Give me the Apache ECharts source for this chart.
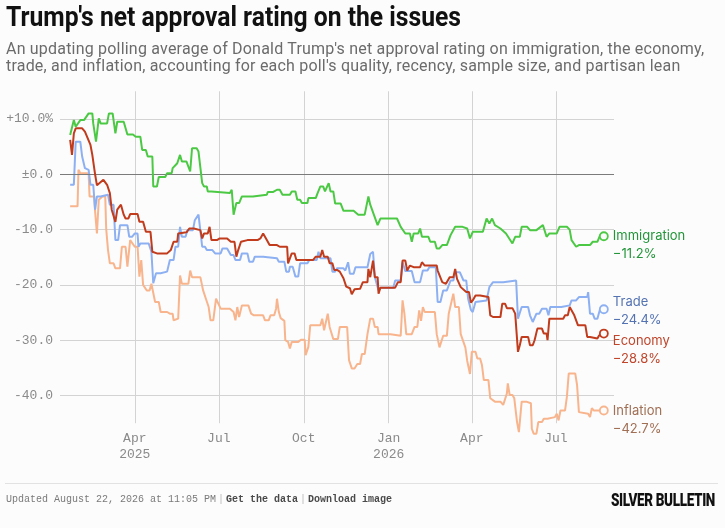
<!DOCTYPE html>
<html lang="en">
<head>
<meta charset="utf-8">
<title>Trump's net approval rating on the issues</title>
<script src="https://cdn.jsdelivr.net/npm/echarts@6.0.0/dist/echarts.min.js"></script>
<style>
  html, body { margin: 0; padding: 0; background: #fcfcfc; }
  #wrap { position: relative; width: 725px; height: 528px; overflow: hidden; }
  #chart { position: absolute; left: 0; top: 0; width: 725px; height: 528px; }
  .title { position: absolute; left: 6px; top: 0px; font-family: Roboto, sans-serif; font-weight: bold;
           font-size: 27px; line-height: 34px; color: #111; white-space: nowrap; transform-origin: 0 0; }
  .sub { position: absolute; left: 6px; top: 41px; font-family: Roboto, sans-serif; font-size: 16px;
         letter-spacing: 0.2px; line-height: 16.5px; color: #6b6b6b; white-space: nowrap; }
  .rule { position: absolute; left: 5px; right: 7px; top: 483px; border-top: 1px solid #e2e2e2; }
  .foot { position: absolute; left: 6px; top: 493px; font-family: "Liberation Mono", monospace; font-size: 10px;
          line-height: 14px; color: #7a7a7a; white-space: nowrap; }
  .foot b { color: #4a4a4a; }
  .foot .sep { color: #bbb; margin: 0 2px; }
  .logo { position: absolute; left: 611px; top: 489px; font-family: Roboto, sans-serif; font-weight: 900;
          font-size: 19px; line-height: 22px; color: #111; white-space: nowrap; transform-origin: 0 0; letter-spacing: -0.5px; }
</style>
</head>
<body>
<div id="wrap">
  <div id="chart"></div>
  <div class="title" id="title">Trump's net approval rating on the issues</div>
  <div class="sub">An updating polling average of Donald Trump's net approval rating on immigration, the economy,<br>trade, and inflation, accounting for each poll's quality, recency, sample size, and partisan lean</div>
  <div class="rule"></div>
  <div class="foot">Updated August 22, 2026 at 11:05 PM<span class="sep">|</span><b>Get the data</b><span class="sep">|</span><b>Download image</b></div>
  <div class="logo" id="logo">SILVER BULLETIN</div>
</div>

<script>
// squeeze the condensed title and logo to the reference widths
function fit(id, w) {
  var el = document.getElementById(id);
  var r = el.getBoundingClientRect().width;
  el.style.transform = 'scaleX(' + (w / r) + ')';
}
fit('title', 455);
fit('logo', 104);

// axis ticks
var xTicks = ['2025-04-01', '2025-07-01', '2025-10-01', '2026-01-01', '2026-04-01', '2026-07-01'];
var xTickLabels = ['Apr\n2025', 'Jul', 'Oct', 'Jan\n2026', 'Apr', 'Jul'];
var yTicks = [-40, -30, -20, -10, 0, 10];
var yTickLabels = ['-40.0', '-30.0', '-20.0', '-10.0', '±0.0', '+10.0%'];

var seriesNames = ['Inflation', 'Trade', 'Economy', 'Immigration'];

// net approval, [date, value]
var immigration = [
  ['2025-01-21', 7.1], ['2025-01-25', 9.8], ['2025-01-27', 8.6], ['2025-02-01', 9.8], ['2025-02-05', 9.8],
  ['2025-02-10', 11.0], ['2025-02-14', 11.0], ['2025-02-15', 9.2], ['2025-02-18', 5.9], ['2025-02-21', 10.1],
  ['2025-02-23', 9.2], ['2025-03-02', 9.2], ['2025-03-04', 11.0], ['2025-03-08', 11.0], ['2025-03-11', 7.4],
  ['2025-03-13', 9.5], ['2025-03-20', 9.5], ['2025-03-22', 9.2], ['2025-03-24', 7.2], ['2025-03-30', 7.2],
  ['2025-04-02', 6.8], ['2025-04-07', 6.8], ['2025-04-09', 4.4], ['2025-04-13', 4.4], ['2025-04-15', 3.2],
  ['2025-04-20', 3.2], ['2025-04-21', -2.2], ['2025-04-25', -2.2], ['2025-04-27', -0.5], ['2025-05-04', -0.5],
  ['2025-05-06', 0.2], ['2025-05-11', 0.2], ['2025-05-12', 1.1], ['2025-05-17', 2.0], ['2025-05-20', 3.5],
  ['2025-05-22', 2.3], ['2025-05-27', 2.3], ['2025-05-29', 2.6], ['2025-05-31', 0.5], ['2025-06-02', 4.7],
  ['2025-06-07', 4.7], ['2025-06-09', 4.1], ['2025-06-11', 4.1], ['2025-06-13', -1.6], ['2025-06-15', -2.2],
  ['2025-06-18', -2.2], ['2025-06-19', -3.1], ['2025-06-23', -3.1], ['2025-06-24', -3.4], ['2025-07-13', -3.4],
  ['2025-07-15', -2.8], ['2025-07-17', -7.3], ['2025-07-20', -5.2], ['2025-07-23', -5.2], ['2025-07-26', -4.0],
  ['2025-08-07', -4.0], ['2025-08-09', -3.7], ['2025-08-22', -3.7], ['2025-08-23', -3.2], ['2025-08-29', -3.2],
  ['2025-09-02', -2.8], ['2025-09-05', -2.8], ['2025-09-08', -3.7], ['2025-09-16', -3.7], ['2025-09-18', -3.1],
  ['2025-09-22', -3.1], ['2025-09-24', -4.6], ['2025-09-27', -4.6], ['2025-09-29', -5.2], ['2025-10-05', -5.2],
  ['2025-10-06', -4.3], ['2025-10-14', -4.3], ['2025-10-16', -3.4], ['2025-10-19', -2.2], ['2025-10-22', -2.2],
  ['2025-10-24', -3.1], ['2025-10-28', -1.6], ['2025-10-30', -3.1], ['2025-11-02', -3.1], ['2025-11-04', -5.3],
  ['2025-11-10', -5.3], ['2025-11-13', -6.6], ['2025-11-24', -6.6], ['2025-11-29', -7.3], ['2025-12-06', -7.3],
  ['2025-12-10', -4.0], ['2025-12-12', -5.5], ['2025-12-20', -9.2], ['2025-12-23', -8.0], ['2026-01-10', -8.0],
  ['2026-01-14', -9.5], ['2026-01-19', -10.7], ['2026-01-24', -10.7], ['2026-01-26', -12.2], ['2026-01-28', -10.7],
  ['2026-02-02', -10.7], ['2026-02-04', -9.8], ['2026-02-06', -11.3], ['2026-02-13', -11.3], ['2026-02-15', -12.2],
  ['2026-02-20', -12.2], ['2026-02-22', -13.4], ['2026-02-25', -13.4], ['2026-02-28', -12.8], ['2026-03-05', -12.8],
  ['2026-03-09', -11.0], ['2026-03-14', -9.5], ['2026-03-22', -9.5], ['2026-03-27', -9.8], ['2026-03-30', -11.6],
  ['2026-04-02', -10.4], ['2026-04-13', -10.4], ['2026-04-17', -8.0], ['2026-04-20', -8.9], ['2026-04-23', -8.0],
  ['2026-04-26', -9.2], ['2026-05-02', -9.8], ['2026-05-08', -10.7], ['2026-05-15', -12.5], ['2026-05-18', -11.3],
  ['2026-05-23', -11.3], ['2026-05-25', -9.5], ['2026-05-31', -9.5], ['2026-06-03', -10.1], ['2026-06-10', -10.1],
  ['2026-06-17', -9.2], ['2026-06-21', -11.3], ['2026-06-24', -10.7], ['2026-07-02', -10.7], ['2026-07-05', -9.5],
  ['2026-07-13', -9.5], ['2026-07-16', -10.0], ['2026-07-18', -11.9], ['2026-07-23', -13.1], ['2026-07-26', -12.8],
  ['2026-08-07', -12.8], ['2026-08-10', -12.2], ['2026-08-15', -12.2], ['2026-08-18', -11.0], ['2026-08-22', -11.2]
];

var economy = [
  ['2025-01-21', 6.2], ['2025-01-23', 3.5], ['2025-01-25', 7.4], ['2025-01-27', 8.3], ['2025-02-03', 8.3],
  ['2025-02-06', 7.7], ['2025-02-12', 5.3], ['2025-02-14', 3.5], ['2025-02-17', 0.0], ['2025-02-19', -2.0],
  ['2025-02-21', -2.2], ['2025-02-26', -1.0], ['2025-02-28', -1.0], ['2025-03-02', -1.9], ['2025-03-04', -1.9],
  ['2025-03-05', -3.4], ['2025-03-07', -6.4], ['2025-03-11', -8.6], ['2025-03-13', -6.4], ['2025-03-17', -5.5],
  ['2025-03-20', -7.3], ['2025-03-22', -8.0], ['2025-03-25', -8.0], ['2025-03-27', -7.2], ['2025-04-04', -7.2],
  ['2025-04-06', -8.6], ['2025-04-10', -8.6], ['2025-04-13', -10.4], ['2025-04-18', -10.4], ['2025-04-20', -14.0],
  ['2025-04-25', -14.3], ['2025-05-06', -14.3], ['2025-05-10', -13.7], ['2025-05-13', -12.2], ['2025-05-17', -12.2],
  ['2025-05-18', -10.7], ['2025-05-27', -10.5], ['2025-05-30', -9.8], ['2025-06-04', -9.8], ['2025-06-06', -10.1],
  ['2025-06-11', -10.1], ['2025-06-13', -11.6], ['2025-06-15', -10.7], ['2025-06-19', -10.7], ['2025-06-21', -9.5],
  ['2025-06-23', -11.9], ['2025-06-29', -11.9], ['2025-07-02', -11.6], ['2025-07-10', -11.6], ['2025-07-14', -12.2],
  ['2025-07-18', -12.2], ['2025-07-20', -14.9], ['2025-07-22', -13.7], ['2025-07-25', -12.2], ['2025-08-01', -11.9],
  ['2025-08-12', -11.9], ['2025-08-15', -11.6], ['2025-08-18', -10.7], ['2025-08-22', -11.9], ['2025-08-25', -12.8],
  ['2025-09-02', -12.8], ['2025-09-05', -13.1], ['2025-09-13', -13.1], ['2025-09-14', -16.1], ['2025-09-18', -14.3],
  ['2025-09-21', -14.3], ['2025-09-23', -15.5], ['2025-10-11', -15.5], ['2025-10-14', -14.9], ['2025-10-19', -14.9],
  ['2025-10-21', -13.7], ['2025-10-23', -14.9], ['2025-10-27', -14.9], ['2025-10-29', -16.1], ['2025-11-01', -16.1],
  ['2025-11-03', -17.3], ['2025-11-06', -17.3], ['2025-11-09', -17.6], ['2025-11-13', -18.8], ['2025-11-16', -20.3],
  ['2025-11-20', -20.6], ['2025-11-22', -21.7], ['2025-11-25', -20.8], ['2025-12-01', -20.7], ['2025-12-04', -19.5],
  ['2025-12-09', -19.5], ['2025-12-10', -17.1], ['2025-12-12', -18.6], ['2025-12-14', -18.6], ['2025-12-15', -15.6],
  ['2025-12-17', -18.6], ['2025-12-20', -18.6], ['2025-12-21', -21.6], ['2025-12-23', -20.5], ['2026-01-08', -20.5],
  ['2026-01-11', -19.5], ['2026-01-14', -19.5], ['2026-01-16', -15.6], ['2026-01-19', -15.6], ['2026-01-21', -17.4],
  ['2026-01-24', -16.5], ['2026-01-28', -16.8], ['2026-02-04', -16.8], ['2026-02-06', -15.9], ['2026-02-09', -16.5],
  ['2026-02-22', -16.5], ['2026-02-23', -17.4], ['2026-02-28', -19.5], ['2026-03-04', -19.8], ['2026-03-08', -18.6],
  ['2026-03-12', -18.6], ['2026-03-14', -17.1], ['2026-03-16', -18.9], ['2026-03-20', -20.4], ['2026-03-26', -21.3],
  ['2026-03-29', -21.3], ['2026-03-31', -23.2], ['2026-04-02', -22.8], ['2026-04-05', -21.9], ['2026-04-10', -21.9],
  ['2026-04-12', -22.2], ['2026-04-19', -22.2], ['2026-04-21', -25.5], ['2026-04-24', -25.8], ['2026-05-02', -25.8],
  ['2026-05-04', -23.4], ['2026-05-07', -23.4], ['2026-05-09', -24.2], ['2026-05-15', -24.2], ['2026-05-18', -25.2],
  ['2026-05-20', -25.2], ['2026-05-21', -32.1], ['2026-05-23', -30.9], ['2026-05-25', -29.4], ['2026-06-01', -29.4],
  ['2026-06-03', -30.9], ['2026-06-06', -30.9], ['2026-06-08', -30.0], ['2026-06-11', -27.9], ['2026-06-16', -27.9],
  ['2026-06-18', -28.8], ['2026-06-21', -28.8], ['2026-06-22', -30.0], ['2026-06-24', -26.1], ['2026-07-09', -26.1],
  ['2026-07-11', -25.5], ['2026-07-14', -25.5], ['2026-07-16', -24.0], ['2026-07-18', -24.0], ['2026-07-21', -25.5],
  ['2026-07-25', -27.3], ['2026-08-02', -27.3], ['2026-08-04', -29.4], ['2026-08-07', -29.4], ['2026-08-09', -29.7],
  ['2026-08-15', -29.7], ['2026-08-17', -29.1], ['2026-08-20', -29.1], ['2026-08-22', -28.8]
];

var trade = [
  ['2025-01-21', -1.9], ['2025-01-25', -1.9], ['2025-01-27', 5.9], ['2025-02-01', 5.9], ['2025-02-03', 3.2],
  ['2025-02-06', 1.1], ['2025-02-10', 0.8], ['2025-02-12', -1.9], ['2025-02-15', -1.9], ['2025-02-17', -6.4],
  ['2025-02-19', -4.0], ['2025-02-23', -4.0], ['2025-02-25', -3.7], ['2025-03-03', -3.7], ['2025-03-05', -5.5],
  ['2025-03-09', -5.5], ['2025-03-11', -11.9], ['2025-03-14', -11.9], ['2025-03-16', -9.2], ['2025-03-24', -9.2],
  ['2025-03-26', -11.3], ['2025-03-29', -11.3], ['2025-04-01', -10.7], ['2025-04-04', -10.7], ['2025-04-05', -13.1],
  ['2025-04-07', -12.5], ['2025-04-16', -12.5], ['2025-04-19', -14.0], ['2025-04-21', -19.7], ['2025-04-24', -17.9],
  ['2025-04-29', -17.9], ['2025-05-01', -17.6], ['2025-05-06', -17.6], ['2025-05-09', -15.5], ['2025-05-13', -15.5],
  ['2025-05-15', -13.1], ['2025-05-18', -13.1], ['2025-05-20', -9.5], ['2025-05-22', -11.3], ['2025-05-26', -11.3],
  ['2025-05-28', -10.1], ['2025-06-03', -10.1], ['2025-06-05', -8.3], ['2025-06-07', -8.3], ['2025-06-09', -7.3],
  ['2025-06-11', -7.3], ['2025-06-13', -13.1], ['2025-06-16', -13.1], ['2025-06-18', -13.7], ['2025-06-24', -13.7],
  ['2025-06-27', -14.3], ['2025-07-03', -14.3], ['2025-07-05', -13.4], ['2025-07-10', -13.4], ['2025-07-14', -14.6],
  ['2025-07-17', -14.6], ['2025-07-19', -15.5], ['2025-07-24', -15.5], ['2025-07-26', -14.3], ['2025-08-01', -14.3],
  ['2025-08-03', -15.8], ['2025-08-07', -15.8], ['2025-08-09', -14.9], ['2025-08-18', -14.9], ['2025-08-20', -15.2],
  ['2025-09-02', -15.2], ['2025-09-04', -15.8], ['2025-09-10', -15.8], ['2025-09-12', -17.6], ['2025-09-15', -17.6],
  ['2025-09-16', -16.7], ['2025-09-19', -16.7], ['2025-09-22', -18.5], ['2025-09-25', -18.5], ['2025-09-27', -16.1],
  ['2025-10-05', -16.1], ['2025-10-07', -15.5], ['2025-10-15', -15.5], ['2025-10-17', -14.0], ['2025-10-19', -15.2],
  ['2025-10-30', -15.2], ['2025-11-01', -17.6], ['2025-11-04', -17.6], ['2025-11-06', -17.0], ['2025-11-13', -17.0],
  ['2025-11-15', -17.4], ['2025-11-18', -15.9], ['2025-11-20', -18.0], ['2025-11-24', -18.0], ['2025-11-26', -16.8],
  ['2025-12-09', -16.8], ['2025-12-12', -14.4], ['2025-12-15', -14.0], ['2025-12-17', -18.6], ['2025-12-21', -21.0],
  ['2025-12-23', -20.5], ['2026-01-06', -20.5], ['2026-01-08', -19.2], ['2026-01-14', -19.2], ['2026-01-16', -15.9],
  ['2026-01-19', -17.5], ['2026-01-26', -17.5], ['2026-01-29', -19.5], ['2026-02-04', -19.5], ['2026-02-07', -17.4],
  ['2026-02-12', -17.4], ['2026-02-14', -16.8], ['2026-02-21', -16.8], ['2026-02-23', -23.1], ['2026-02-26', -23.1],
  ['2026-03-01', -21.0], ['2026-03-05', -21.0], ['2026-03-09', -19.2], ['2026-03-12', -19.2], ['2026-03-14', -17.7],
  ['2026-03-19', -17.7], ['2026-03-23', -19.2], ['2026-03-26', -19.2], ['2026-03-28', -22.5], ['2026-03-31', -24.5],
  ['2026-04-02', -24.9], ['2026-04-05', -23.1], ['2026-04-17', -22.8], ['2026-04-20', -20.4], ['2026-04-24', -19.5],
  ['2026-05-05', -19.5], ['2026-05-07', -19.2], ['2026-05-19', -19.2], ['2026-05-21', -26.1], ['2026-05-23', -26.1],
  ['2026-05-25', -24.0], ['2026-06-01', -24.0], ['2026-06-03', -25.5], ['2026-06-06', -26.7], ['2026-06-08', -26.7],
  ['2026-06-10', -25.2], ['2026-06-13', -25.2], ['2026-06-16', -24.3], ['2026-06-21', -24.3], ['2026-06-23', -25.5],
  ['2026-06-25', -24.0], ['2026-07-07', -24.0], ['2026-07-09', -23.7], ['2026-07-16', -23.7], ['2026-07-18', -22.8],
  ['2026-07-23', -22.8], ['2026-07-26', -22.2], ['2026-08-04', -22.2], ['2026-08-05', -21.3], ['2026-08-07', -25.2],
  ['2026-08-10', -25.2], ['2026-08-12', -26.1], ['2026-08-15', -26.1], ['2026-08-18', -24.3], ['2026-08-22', -24.4]
];

var inflation = [
  ['2025-01-21', -5.8], ['2025-01-29', -5.8], ['2025-01-30', 0.8], ['2025-02-01', 0.2], ['2025-02-10', 0.2],
  ['2025-02-11', -4.0], ['2025-02-16', -4.0], ['2025-02-17', -6.7], ['2025-02-19', -10.7], ['2025-02-21', -4.6],
  ['2025-02-25', -4.0], ['2025-02-28', -4.0], ['2025-03-01', -9.8], ['2025-03-03', -13.7], ['2025-03-05', -16.1],
  ['2025-03-09', -16.1], ['2025-03-11', -17.0], ['2025-03-16', -17.0], ['2025-03-18', -13.1], ['2025-03-22', -13.1],
  ['2025-03-24', -16.7], ['2025-03-26', -16.7], ['2025-03-27', -11.9], ['2025-03-29', -11.9], ['2025-04-01', -13.1],
  ['2025-04-04', -13.1], ['2025-04-06', -18.5], ['2025-04-08', -15.5], ['2025-04-10', -20.0], ['2025-04-14', -21.0],
  ['2025-04-17', -21.0], ['2025-04-19', -19.8], ['2025-04-21', -19.8], ['2025-04-23', -23.1], ['2025-04-27', -23.1],
  ['2025-04-29', -24.9], ['2025-05-06', -24.9], ['2025-05-09', -25.2], ['2025-05-12', -25.2], ['2025-05-13', -26.4],
  ['2025-05-15', -26.1], ['2025-05-18', -26.1], ['2025-05-20', -18.3], ['2025-05-22', -19.8], ['2025-05-29', -19.8],
  ['2025-05-31', -17.4], ['2025-06-02', -18.6], ['2025-06-11', -18.6], ['2025-06-14', -21.0], ['2025-06-17', -22.5],
  ['2025-06-20', -24.0], ['2025-06-22', -26.4], ['2025-06-25', -26.4], ['2025-06-28', -22.5], ['2025-06-30', -22.5],
  ['2025-07-03', -24.3], ['2025-07-13', -24.3], ['2025-07-17', -24.9], ['2025-07-19', -26.4], ['2025-07-21', -24.0],
  ['2025-07-23', -25.8], ['2025-07-26', -23.7], ['2025-08-02', -23.7], ['2025-08-05', -25.2], ['2025-08-08', -25.5],
  ['2025-08-18', -25.5], ['2025-08-20', -26.4], ['2025-08-24', -26.4], ['2025-08-26', -25.5], ['2025-08-30', -25.5],
  ['2025-09-01', -24.3], ['2025-09-02', -22.5], ['2025-09-04', -24.9], ['2025-09-06', -26.0], ['2025-09-10', -26.5],
  ['2025-09-11', -30.0], ['2025-09-14', -30.3], ['2025-09-16', -31.5], ['2025-09-18', -30.3], ['2025-09-25', -30.3],
  ['2025-09-28', -29.9], ['2025-10-02', -29.9], ['2025-10-03', -32.7], ['2025-10-05', -32.7], ['2025-10-06', -31.2],
  ['2025-10-08', -27.3], ['2025-10-19', -27.3], ['2025-10-21', -26.1], ['2025-10-23', -28.2], ['2025-10-27', -25.2],
  ['2025-10-29', -27.6], ['2025-10-31', -27.9], ['2025-11-02', -29.8], ['2025-11-07', -29.8], ['2025-11-09', -27.6],
  ['2025-11-17', -27.6], ['2025-11-19', -33.6], ['2025-11-22', -35.1], ['2025-11-25', -35.1], ['2025-11-28', -34.3],
  ['2025-12-01', -34.3], ['2025-12-03', -32.5], ['2025-12-06', -32.5], ['2025-12-09', -28.9], ['2025-12-12', -26.1],
  ['2025-12-15', -26.1], ['2025-12-17', -27.6], ['2025-12-20', -27.6], ['2025-12-21', -28.9], ['2026-01-03', -28.9],
  ['2026-01-05', -29.2], ['2026-01-14', -29.2], ['2026-01-16', -22.8], ['2026-01-18', -25.2], ['2026-01-20', -28.9],
  ['2026-01-26', -28.9], ['2026-01-29', -27.6], ['2026-02-01', -27.6], ['2026-02-03', -24.6], ['2026-02-05', -26.5],
  ['2026-02-07', -24.0], ['2026-02-09', -24.9], ['2026-02-20', -24.9], ['2026-02-22', -28.9], ['2026-02-25', -31.3],
  ['2026-03-01', -29.2], ['2026-03-05', -29.2], ['2026-03-07', -25.2], ['2026-03-09', -25.2], ['2026-03-12', -21.6],
  ['2026-03-14', -24.0], ['2026-03-18', -24.0], ['2026-03-20', -28.9], ['2026-03-25', -31.3], ['2026-03-27', -33.7],
  ['2026-03-30', -36.1], ['2026-04-01', -32.1], ['2026-04-05', -32.1], ['2026-04-07', -33.3], ['2026-04-10', -33.3],
  ['2026-04-12', -34.5], ['2026-04-14', -37.2], ['2026-04-19', -37.2], ['2026-04-21', -40.5], ['2026-04-26', -41.1],
  ['2026-05-02', -41.1], ['2026-05-05', -41.7], ['2026-05-07', -41.7], ['2026-05-09', -39.6], ['2026-05-10', -37.8],
  ['2026-05-12', -39.9], ['2026-05-15', -39.9], ['2026-05-17', -40.5], ['2026-05-19', -40.5], ['2026-05-20', -44.8],
  ['2026-05-22', -46.6], ['2026-05-24', -46.6], ['2026-05-25', -41.1], ['2026-05-30', -41.1], ['2026-06-01', -41.4],
  ['2026-06-04', -41.4], ['2026-06-05', -46.0], ['2026-06-07', -46.9], ['2026-06-10', -46.9], ['2026-06-12', -44.8],
  ['2026-06-16', -44.8], ['2026-06-18', -44.2], ['2026-06-22', -44.2], ['2026-06-24', -43.9], ['2026-06-30', -43.9],
  ['2026-07-02', -43.3], ['2026-07-04', -44.5], ['2026-07-06', -42.7], ['2026-07-11', -42.7], ['2026-07-13', -40.2],
  ['2026-07-15', -36.0], ['2026-07-22', -36.0], ['2026-07-24', -38.1], ['2026-07-26', -43.0], ['2026-08-05', -43.3],
  ['2026-08-07', -43.9], ['2026-08-09', -42.3], ['2026-08-11', -42.7], ['2026-08-22', -42.7]
];

var lineColors = { Inflation: '#f8b48c', Trade: '#8db0f2', Economy: '#c13b1d', Immigration: '#4cc944' };
var labelColors = { Inflation: '#a06f55', Trade: '#5473b2', Economy: '#c0452b', Immigration: '#23963a' };
var labelShift = { Inflation: 10, Trade: 2, Economy: 17, Immigration: 9 };
var seriesData = { Inflation: inflation, Trade: trade, Economy: economy, Immigration: immigration };

var toTime = function (s) { return echarts.number.parseDate(s).getTime(); };
var xTickTimes = xTicks.map(toTime);

function fmtPct(v) {
  return (v < 0 ? '\u2212' : '+') + Math.abs(v).toFixed(1) + '%';
}

var chart = echarts.init(document.getElementById('chart'), null, { renderer: 'canvas' });

var series = seriesNames.map(function (name, si) {
  var arr = seriesData[name];
  var data = arr.map(function (d, i) {
    var pt = [toTime(d[0]), d[1]];
    if (i === arr.length - 1) {
      return { value: pt, symbol: 'circle', symbolSize: 8 };
    }
    return pt;
  });
  var s = {
    name: name,
    type: 'line',
    data: data,
    symbol: 'none',
    showSymbol: true,
    clip: false,
    z: 3 + si,
    lineStyle: { color: lineColors[name], width: 2 },
    itemStyle: { color: '#fcfcfc', borderColor: lineColors[name], borderWidth: 1.8 },
    emphasis: { disabled: true },
    endLabel: {
      show: true,
      distance: 9,
      offset: [0, labelShift[name]],
      formatter: function (p) {
        return '{n|' + p.seriesName + '}\n{v|' + fmtPct(p.value[1]) + '}';
      },
      rich: {
        n: { fontFamily: 'Inter', fontSize: 13, lineHeight: 18, color: labelColors[name] },
        v: { fontFamily: 'Inter', fontSize: 13, lineHeight: 18, color: labelColors[name] }
      }
    }
  };
  if (si === 0) {
    s.markLine = {
      silent: true,
      symbol: 'none',
      label: { show: false },
      lineStyle: { color: '#7b7b7b', width: 1, type: 'solid' },
      data: [{ yAxis: 0 }]
    };
  }
  return s;
});

chart.setOption({
  animation: false,
  backgroundColor: 'transparent',
  grid: { left: 60, right: 111, top: 91.3, bottom: 104.8, containLabel: false },
  tooltip: { show: false },
  xAxis: {
    type: 'value',
    min: toTime('2025-01-10'),
    max: toTime('2026-09-02'),
    axisLine: { show: false },
    axisTick: { show: false, customValues: xTickTimes },
    splitLine: { show: true, lineStyle: { color: '#d3d3d3', width: 1 } },
    axisLabel: {
      customValues: xTickTimes,
      margin: 7,
      fontFamily: 'Liberation Mono',
      fontSize: 13,
      lineHeight: 16,
      color: '#8a8a8a',
      formatter: function (v) {
        var i = xTickTimes.indexOf(v);
        return i >= 0 ? xTickLabels[i] : '';
      }
    }
  },
  yAxis: {
    type: 'value',
    min: -45,
    max: 15,
    axisLine: { show: false },
    axisTick: { show: false, customValues: yTicks },
    splitLine: { show: true, lineStyle: { color: '#d3d3d3', width: 1 } },
    axisLabel: {
      customValues: yTicks,
      margin: 7,
      fontFamily: 'Liberation Mono',
      fontSize: 13,
      color: '#8a8a8a',
      formatter: function (v) {
        var i = yTicks.indexOf(v);
        return i >= 0 ? yTickLabels[i] : '';
      }
    }
  },
  series: series
});
</script>
</body>
</html>
